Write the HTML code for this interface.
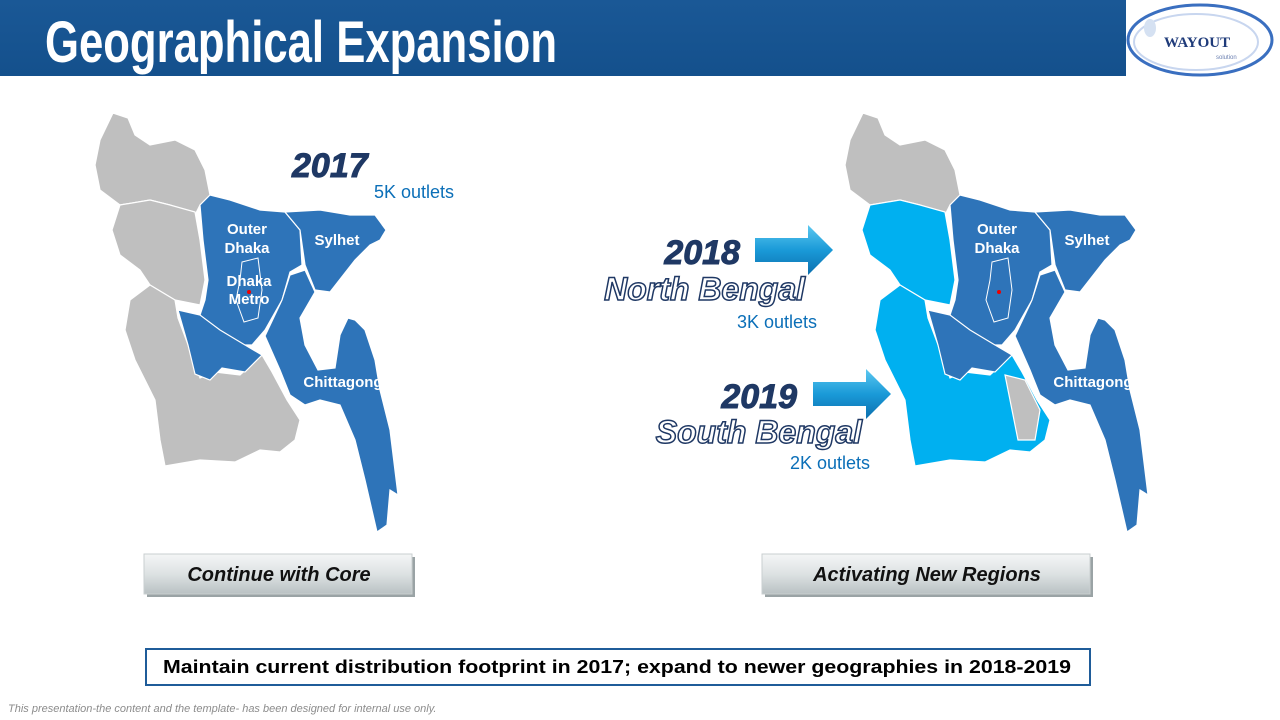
<!DOCTYPE html>
<html><head><meta charset="utf-8"><style>
body{margin:0;width:1280px;height:720px;overflow:hidden;background:#fff;font-family:"Liberation Sans",sans-serif}
svg{display:block}
</style></head><body>
<svg width="1280" height="720" viewBox="0 0 1280 720">
<defs>
<linearGradient id="hdr" x1="0" y1="0" x2="0" y2="1"><stop offset="0" stop-color="#1a5896"/><stop offset="1" stop-color="#14508c"/></linearGradient>
<linearGradient id="btn" x1="0" y1="0" x2="0" y2="1"><stop offset="0" stop-color="#f4f6f6"/><stop offset="0.5" stop-color="#dde2e3"/><stop offset="1" stop-color="#b9c1c3"/></linearGradient>
<linearGradient id="arr" x1="0" y1="0" x2="0" y2="1"><stop offset="0" stop-color="#5cc8f0"/><stop offset="0.5" stop-color="#1a9ad8"/><stop offset="1" stop-color="#0c6fae"/></linearGradient>
<g id="north"><polygon points="113,113 128,118 135,135 150,145 175,140 195,150 205,170 210,195 200,205 195,215 170,205 150,200 120,205 100,190 95,165 100,140"/></g>
<g id="west"><polygon points="120,205 150,200 170,205 195,212 200,240 205,280 200,305 175,300 150,285 140,270 120,255 112,230"/></g>
<g id="sw"><polygon points="150,285 175,300 178,318 190,350 200,378 215,372 240,375 262,355 272,372 287,400 300,420 295,440 280,452 260,450 235,462 200,460 165,466 160,440 155,400 135,360 125,330 130,300"/></g>
<g id="faridpur"><polygon points="178,310 200,315 220,330 245,345 262,355 245,372 222,368 210,380 195,374 188,345"/></g>
<g id="dhaka"><polygon points="200,205 210,195 230,200 260,210 285,212 300,230 302,265 290,272 282,300 265,330 252,345 235,345 215,330 200,315 205,300 208,280 203,240"/></g>
<g id="sylhet"><polygon points="285,212 320,210 350,215 375,215 386,230 380,240 370,245 355,260 330,292 315,290 305,265 300,230"/></g>
<g id="ctg"><polygon points="290,275 305,270 315,292 300,318 305,345 318,370 335,368 340,335 348,318 355,320 365,330 375,360 380,390 390,430 398,495 390,490 387,525 377,532 365,480 355,440 340,405 320,400 305,405 290,395 280,370 265,336 282,300"/></g>
<g id="metro"><polygon points="242,262 258,258 262,290 258,318 244,322 236,300 240,280" fill="none" stroke="#fff" stroke-width="1"/></g>
</defs>

<rect x="0" y="0" width="1126" height="76" fill="url(#hdr)"/>
<text x="45" y="62" font-size="58" font-weight="bold" fill="#fff" textLength="512" lengthAdjust="spacingAndGlyphs">Geographical Expansion</text>
<g>
<ellipse cx="1200" cy="40" rx="72" ry="35" fill="#fff" stroke="#3a6fc0" stroke-width="3"/>
<ellipse cx="1196" cy="42" rx="62" ry="28" fill="none" stroke="#c8d6ef" stroke-width="2"/>
<ellipse cx="1150" cy="28" rx="6" ry="9" fill="#d5e1f2"/>
<text x="1164" y="47" font-family="Liberation Serif,serif" font-size="15" font-weight="bold" fill="#1f3b7a">WAYOUT</text>
<text x="1216" y="59" font-size="6" fill="#6a7fb0">solution</text>
</g>

<g stroke="#fff" stroke-width="1.2">
<use href="#north" fill="#bfbfbf"/>
<use href="#west" fill="#bfbfbf"/>
<use href="#sw" fill="#bfbfbf"/>
<use href="#dhaka" fill="#2e74b9"/>
<use href="#faridpur" fill="#2e74b9"/>
<use href="#sylhet" fill="#2e74b9"/>
<use href="#ctg" fill="#2e74b9"/>
<use href="#metro"/>
<circle cx="249" cy="292" r="2" fill="#e00" stroke="none"/>
</g>
<g font-size="15" font-weight="bold" fill="#fff" text-anchor="middle">
<text x="247" y="234">Outer</text><text x="247" y="253">Dhaka</text>
<text x="337" y="245">Sylhet</text>
<text x="249" y="286">Dhaka</text><text x="249" y="304">Metro</text>
<text x="343" y="387">Chittagong</text>
</g>
<text x="292" y="177" font-size="34" font-weight="bold" font-style="italic" fill="#1f3864" stroke="#1f3864" stroke-width="1">2017</text>
<text x="374" y="198" font-size="18" fill="#0b6fb8">5K outlets</text>

<g transform="translate(750,0)" stroke="#fff" stroke-width="1.2">
<use href="#north" fill="#bfbfbf"/>
<use href="#west" fill="#00b0f0"/>
<use href="#sw" fill="#00b0f0"/>
<use href="#dhaka" fill="#2e74b9"/>
<use href="#faridpur" fill="#2e74b9"/>
<use href="#sylhet" fill="#2e74b9"/>
<use href="#ctg" fill="#2e74b9"/>
<use href="#metro"/>
<polygon points="255,375 275,380 290,410 285,440 268,440 262,410" fill="#bfbfbf"/>
<circle cx="249" cy="292" r="2" fill="#e00" stroke="none"/>
</g>
<g font-size="15" font-weight="bold" fill="#fff" text-anchor="middle">
<text x="997" y="234">Outer</text><text x="997" y="253">Dhaka</text>
<text x="1087" y="245">Sylhet</text>
<text x="1093" y="387">Chittagong</text>
</g>

<g><polygon points="755,238 808,238 808,225 833,250 808,275 808,262 755,262" fill="url(#arr)"/></g>
<g><polygon points="813,382 866,382 866,369 891,394 866,419 866,406 813,406" fill="url(#arr)"/></g>
<text x="740" y="264" text-anchor="end" font-size="34" font-weight="bold" font-style="italic" fill="#1f3864" stroke="#1f3864" stroke-width="1">2018</text>
<text x="805" y="300" text-anchor="end" font-size="32" font-weight="bold" font-style="italic" fill="#fff" stroke="#1f3864" stroke-width="1.5">North Bengal</text>
<text x="737" y="328" font-size="18" fill="#0b6fb8">3K outlets</text>
<text x="797" y="408" text-anchor="end" font-size="34" font-weight="bold" font-style="italic" fill="#1f3864" stroke="#1f3864" stroke-width="1">2019</text>
<text x="862" y="443" text-anchor="end" font-size="32" font-weight="bold" font-style="italic" fill="#fff" stroke="#1f3864" stroke-width="1.5">South Bengal</text>
<text x="790" y="469" font-size="18" fill="#0b6fb8">2K outlets</text>

<g>
<rect x="147" y="557" width="268" height="40" fill="#9aa3a5"/>
<rect x="144" y="554" width="268" height="40" fill="url(#btn)" stroke="#c9cfd0"/>
<text x="279" y="581" text-anchor="middle" font-size="20" font-weight="bold" font-style="italic" fill="#111">Continue with Core</text>
</g>
<g>
<rect x="765" y="557" width="328" height="40" fill="#9aa3a5"/>
<rect x="762" y="554" width="328" height="40" fill="url(#btn)" stroke="#c9cfd0"/>
<text x="927" y="581" text-anchor="middle" font-size="20" font-weight="bold" font-style="italic" fill="#111">Activating New Regions</text>
</g>

<rect x="146" y="649" width="944" height="36" fill="#fff" stroke="#1f5c99" stroke-width="2"/>
<text x="163" y="673" font-size="18" font-weight="bold" fill="#000" textLength="908" lengthAdjust="spacingAndGlyphs">Maintain current distribution footprint in 2017; expand to newer geographies in 2018-2019</text>
<text x="8" y="712" font-size="11" font-style="italic" fill="#8c8c8c">This presentation-the content and the template- has been designed for internal use only.</text>
</svg>
</body></html>
